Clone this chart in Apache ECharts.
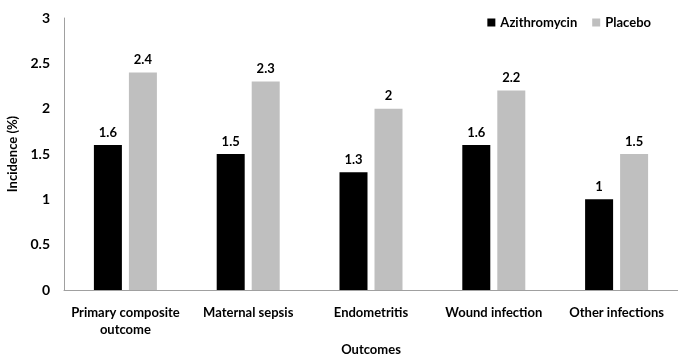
<!DOCTYPE html>
<html><head><meta charset="utf-8">
<script src="https://cdn.jsdelivr.net/npm/echarts@6/dist/echarts.min.js"></script>
<style>html,body{margin:0;padding:0;background:#fff}#c{width:678px;height:357px}</style>
</head><body><div id="c"></div>
<script>
var categories = ['Primary composite\noutcome', 'Maternal sepsis', 'Endometritis', 'Wound infection', 'Other infections'];
var azithromycin = [1.6, 1.5, 1.3, 1.6, 1.0];
var placebo = [2.4, 2.3, 2.0, 2.2, 1.5];
var yTicks = [0, 0.5, 1, 1.5, 2, 2.5, 3];

var FONT = 'Lato';
var chart = echarts.init(document.getElementById('c'));
var lbl = {show: true, position: 'top', color: '#000', fontFamily: FONT, fontWeight: 'bold', fontSize: 13, distance: 6};
chart.setOption({
  animation: false,
  textStyle: {fontFamily: FONT},
  grid: {left: 64, right: 0, top: 18, bottom: 67, containLabel: false, outerBoundsMode: 'none'},
  legend: {
    top: 11, right: 22, itemWidth: 8, itemHeight: 8, itemGap: 15,
    textStyle: {fontFamily: FONT, fontWeight: 'bold', fontSize: 13, color: '#000'},
    data: [{name: 'Azithromycin', icon: 'rect'}, {name: 'Placebo', icon: 'rect'}]
  },
  xAxis: {
    type: 'category', data: categories,
    name: 'Outcomes', nameLocation: 'middle', nameGap: 52,
    nameTextStyle: {fontFamily: FONT, fontWeight: 'bold', fontSize: 13, color: '#000'},
    axisLine: {lineStyle: {color: '#a0a0a0'}},
    axisTick: {show: false},
    axisLabel: {interval: 0, margin: 14, fontFamily: FONT, fontWeight: 'bold', fontSize: 13, color: '#000', lineHeight: 17}
  },
  yAxis: {
    type: 'value', min: 0, max: 3, interval: 0.5,
    name: 'Incidence (%)', nameLocation: 'middle', nameGap: 33,
    nameTextStyle: {fontFamily: FONT, fontWeight: 'bold', fontSize: 13, color: '#000'},
    axisLine: {show: true, lineStyle: {color: '#a0a0a0'}},
    axisTick: {show: false},
    splitLine: {show: false},
    axisLabel: {margin: 14, fontFamily: FONT, fontWeight: 'bold', fontSize: 14, color: '#000',
      formatter: function(v){ return yTicks.indexOf(v) >= 0 ? String(v) : ''; }}
  },
  series: [
    {name: 'Azithromycin', type: 'bar', data: azithromycin, barWidth: 28, barGap: '25%', itemStyle: {color: '#000'}, label: lbl},
    {name: 'Placebo', type: 'bar', data: placebo, barWidth: 28, itemStyle: {color: '#bfbfbf'}, label: lbl}
  ]
});
</script></body></html>
